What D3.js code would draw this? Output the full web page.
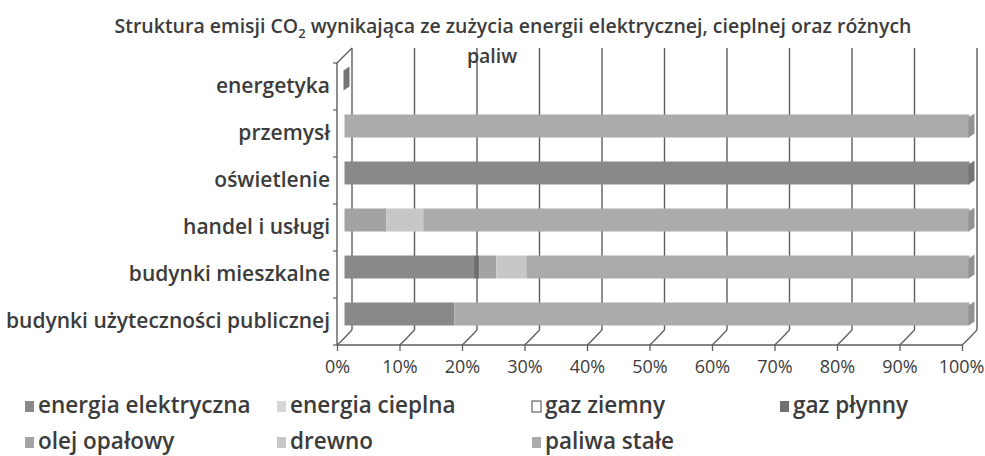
<!DOCTYPE html>
<html>
<head>
<meta charset="utf-8">
<script src="https://cdn.jsdelivr.net/npm/d3@7"></script>
<style>
  body { margin: 0; background: #fff; }
  text { font-family: "Open Sans", sans-serif; fill: #3c3c3c; }
</style>
</head>
<body>
<script>
// Categories, top to bottom
var categories = ["energetyka", "przemysł", "oświetlenie", "handel i usługi",
                  "budynki mieszkalne", "budynki użyteczności publicznej"];

// Shares of each source (%), in category order
var energiaElektryczna = [0, 0, 100, 0, 20.6, 17.6];
var energiaCieplna     = [0, 0, 0, 0, 0, 0];
var gazZiemny          = [0, 0, 0, 0, 0, 0];
var gazPlynny          = [0, 0, 0, 0, 1.0, 0];
var olejOpalowy        = [0, 0, 0, 6.7, 2.7, 0];
var drewno             = [0, 0, 0, 5.9, 4.8, 0];
var paliwaStale        = [0, 100, 0, 87.4, 70.9, 82.4];

var seriesNames = ["energia elektryczna", "energia cieplna", "gaz ziemny", "gaz płynny",
                   "olej opałowy", "drewno", "paliwa stałe"];
var seriesValues = [energiaElektryczna, energiaCieplna, gazZiemny, gazPlynny,
                    olejOpalowy, drewno, paliwaStale];
var tickValues = [0, 0.1, 0.2, 0.3, 0.4, 0.5, 0.6, 0.7, 0.8, 0.9, 1];

var colors = ["#898989", "#d6d6d6", "#ffffff", "#707070", "#a3a3a3", "#c7c7c7", "#ababab"];

var width = 985, height = 456;
var svg = d3.select("body").append("svg")
    .attr("width", width)
    .attr("height", height);

// build table for d3.stack
var table = categories.map(function(c, i) {
  var row = { category: c };
  seriesNames.forEach(function(s, j) { row[s] = seriesValues[j][i] / 100; });
  return row;
});
var stacked = d3.stack().keys(seriesNames)(table);

// front plane and depth offset of the 3D box
var plotLeft = 337, plotRight = 962, plotTop = 63, plotBottom = 345;
var depthX = 15, depthY = -15;

var x = d3.scaleLinear().domain([0, 1]).range([plotLeft, plotRight]);
var y = d3.scaleBand().domain(categories).range([plotTop, plotBottom]);
var barH = 23;

var gridColor = "#5e5e5e";

// back wall gridlines
svg.append("g").selectAll("line")
  .data(tickValues)
  .enter().append("line")
    .attr("x1", function(d) { return x(d) + depthX; })
    .attr("x2", function(d) { return x(d) + depthX; })
    .attr("y1", plotTop + depthY)
    .attr("y2", plotBottom + depthY)
    .attr("stroke", gridColor)
    .attr("stroke-width", 1.4);

// floor diagonals
svg.append("g").selectAll("path")
  .data(tickValues)
  .enter().append("path")
    .attr("d", function(d) {
      var x0 = x(d), x1 = x(d) + depthX;
      return "M" + x0 + "," + plotBottom + " C" + (x0 + 5) + "," + (plotBottom - 4) + " " +
        (x1 - 6) + "," + (plotBottom + depthY + 6) + " " + x1 + "," + (plotBottom + depthY);
    })
    .attr("fill", "none")
    .attr("stroke", gridColor)
    .attr("stroke-width", 1.3);

// left wall
svg.append("path")
  .attr("d", "M" + plotLeft + "," + plotBottom + " L" + plotLeft + "," + plotTop +
    " L" + (plotLeft + depthX) + "," + (plotTop + depthY))
  .attr("fill", "none")
  .attr("stroke", gridColor)
  .attr("stroke-width", 1.4);

// bars at mid depth
var bx = depthX / 2, by = depthY / 2;
function barTop(c) { return y(c) + y.bandwidth() / 2 - barH / 2 + by; }

var layers = svg.append("g").selectAll("g")
  .data(stacked)
  .enter().append("g")
    .attr("fill", function(d, i) { return colors[i]; });

layers.selectAll("rect")
  .data(function(d) { return d; })
  .enter().append("rect")
    .attr("x", function(d) { return x(d[0]) + bx; })
    .attr("y", function(d) { return barTop(d.data.category); })
    .attr("width", function(d) { return x(d[1]) - x(d[0]); })
    .attr("height", barH);

// end caps of the bars
svg.append("g").selectAll("path")
  .data(table)
  .enter().append("path")
    .attr("d", function(d) {
      var total = d3.sum(seriesNames, function(s) { return d[s]; });
      var e = x(total) + bx;
      var y0 = barTop(d.category), y1 = y0 + barH;
      return "M" + (e - 1) + "," + (y0 + 3) + " L" + (e + 5) + "," + (y0 - 1) +
        " L" + (e + 5) + "," + (y1 - 4) + " L" + (e - 1) + "," + y1 + "Z";
    })
    .attr("fill", function(d) {
      var last = 0;
      seriesNames.forEach(function(s, j) { if (d[s] > 0) last = j; });
      return d3.color(colors[last]).darker(0.45);
    });

// front axis
svg.append("line")
  .attr("x1", plotLeft).attr("x2", plotRight)
  .attr("y1", plotBottom).attr("y2", plotBottom)
  .attr("stroke", gridColor).attr("stroke-width", 1.4);

var xAxis = d3.axisBottom(x).tickValues(tickValues).tickFormat(d3.format(".0%")).tickSize(6).tickPadding(9);
var gx = svg.append("g").attr("transform", "translate(0," + plotBottom + ")").call(xAxis);
gx.select(".domain").remove();
gx.selectAll(".tick line").attr("stroke", gridColor).attr("stroke-width", 1.3);
gx.selectAll(".tick text").style("font-size", "18px").style("font-family", "'Open Sans', sans-serif").attr("fill", "#3a3a3a");
gx.selectAll(".tick text").filter(function(d) { return d === 1; }).attr("dx", -1);

var yAxis = d3.axisLeft(y).tickSize(0).tickPadding(7);
var gy = svg.append("g").attr("transform", "translate(" + plotLeft + ",0)").call(yAxis);
gy.select(".domain").remove();
gy.selectAll(".tick text").style("font-size", "21px").style("font-weight", "600")
  .style("font-family", "'Open Sans', sans-serif").attr("fill", "#3a3a3a");

// small ticks at band boundaries
svg.append("g").selectAll("line")
  .data(d3.range(categories.length + 1))
  .enter().append("line")
    .attr("x1", plotLeft - 4).attr("x2", plotLeft)
    .attr("y1", function(i) { return plotTop + i * y.step(); })
    .attr("y2", function(i) { return plotTop + i * y.step(); })
    .attr("stroke", gridColor).attr("stroke-width", 1.2);

// title
var title = svg.append("text")
  .attr("x", 513).attr("y", 33)
  .attr("text-anchor", "middle")
  .style("font-size", "19.5px").style("font-weight", "600");
title.append("tspan").text("Struktura emisji CO");
title.append("tspan").attr("dy", 5).style("font-size", "13px").text("2");
title.append("tspan").attr("dy", -5).text(" wynikająca ze zużycia energii elektrycznej, cieplnej oraz różnych");
svg.append("text")
  .attr("x", 492).attr("y", 63)
  .attr("text-anchor", "middle")
  .style("font-size", "19.5px").style("font-weight", "600")
  .text("paliw");

// legend
var legendX = [25, 277, 532, 780];
var legendY = [413, 449];
var legend = svg.append("g").selectAll("g")
  .data(seriesNames)
  .enter().append("g")
    .attr("transform", function(d, i) {
      return "translate(" + legendX[i % 4] + "," + legendY[Math.floor(i / 4)] + ")";
    });
legend.append("rect")
  .attr("x", 0).attr("y", -12)
  .attr("width", 9).attr("height", 11)
  .attr("fill", function(d, i) { return colors[i]; })
  .attr("stroke", function(d, i) { return i === 2 ? "#444" : "none"; })
  .attr("stroke-width", 1);
legend.append("text")
  .attr("x", 13).attr("y", 0)
  .style("font-size", "22.5px").style("font-weight", "600")
  .attr("fill", "#3a3a3a")
  .text(function(d) { return d; });
</script>
</body>
</html>
